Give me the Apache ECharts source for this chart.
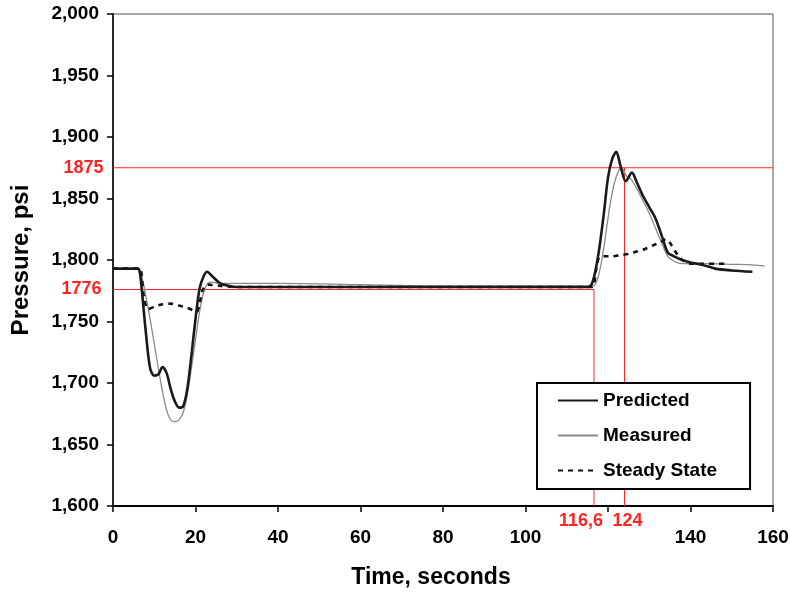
<!DOCTYPE html>
<html>
<head>
<meta charset="utf-8">
<script src="https://cdn.jsdelivr.net/npm/echarts@6/dist/echarts.min.js"></script>
<style>html,body{margin:0;padding:0;background:#fff}#c{width:790px;height:592px}</style>
</head>
<body>
<div id="c"></div>
<script>
// ---- data ----
const predT = [0, 6, 6.5, 7, 8, 9, 10, 11, 12, 13, 14, 15, 16, 17, 18, 19, 20, 21, 22, 22.8, 24, 26, 28, 30, 40, 60, 80, 100, 110, 115, 116, 117, 118, 119, 120, 121, 122, 123, 124.3, 125.8, 127, 128.5, 130, 131.5, 133, 134.5, 136, 138, 140, 143, 146, 150, 155];
const predP = [1793, 1793, 1790, 1775, 1740, 1712, 1706, 1707, 1713, 1708, 1695, 1685, 1680, 1681, 1695, 1722, 1752, 1777, 1787, 1790.5, 1787, 1781, 1779, 1778, 1778, 1778, 1778, 1778, 1778, 1778, 1780, 1792, 1812, 1838, 1867, 1882, 1888, 1877, 1864, 1871, 1863, 1852, 1843, 1834, 1820, 1806, 1803, 1800, 1798, 1796, 1793, 1791.5, 1790.5];

const measT = [0, 6, 7, 8, 9, 10, 11, 12, 13, 14, 15, 16, 17, 18, 19, 20, 21, 22, 23, 24, 26, 30, 40, 60, 80, 100, 110, 115, 116.5, 117.5, 118.5, 119.5, 120.5, 121.5, 122.5, 123.3, 124.5, 125.5, 127, 128.5, 130, 131.5, 133, 134.5, 136, 138, 140, 145, 150, 155, 158];
const measP = [1793, 1793, 1786, 1770, 1752, 1732, 1712, 1693, 1678, 1670, 1668.5, 1670, 1676, 1690, 1712, 1735, 1758, 1774, 1781, 1782, 1781, 1781, 1781, 1780, 1779, 1779, 1779, 1779, 1779, 1785, 1800, 1822, 1845, 1862, 1872, 1875, 1868, 1866, 1858, 1848, 1838, 1826, 1814, 1803, 1799, 1797, 1797, 1797, 1796.5, 1796, 1795];

const steadyT = [0, 6.5, 7, 7.5, 8.5, 10, 12, 14, 16, 18, 19.5, 20.3, 21, 21.8, 23, 26, 30, 60, 100, 116, 117, 117.8, 119, 121, 123, 125, 127, 129, 131, 133, 134, 135, 136.5, 138, 140, 143, 146, 149];
const steadyP = [1793, 1793, 1785, 1770, 1760, 1762, 1764, 1764.5, 1763, 1761, 1759, 1758, 1765, 1776, 1780, 1779, 1778, 1778, 1778, 1778, 1790, 1802, 1803, 1803, 1804, 1805, 1807, 1809, 1812, 1815, 1817, 1814, 1806, 1800, 1797, 1797, 1797, 1797];

const seriesNames = ['Predicted', 'Measured', 'Steady State'];
const refPressures = [1875, 1776];
const refTimes = [124, 116.6];
const xTicks = [0, 20, 40, 60, 80, 100, 120, 140, 160];
const hiddenXTick = 120;
const yTicks = [1600, 1650, 1700, 1750, 1800, 1850, 1900, 1950, 2000];

function zip(a, b) { return a.map((v, i) => [v, b[i]]); }

const RED = '#ff2424';
const FONT = '"Liberation Sans", Arial, sans-serif';
const redLabel = (txt, pos, extra) => Object.assign({
  show: true, position: pos, formatter: txt, color: RED,
  fontFamily: FONT, fontWeight: 'bold', fontSize: 18
}, extra || {});

const chart = echarts.init(document.getElementById('c'), null, { renderer: 'canvas' });

const refLineStyle = { color: RED, width: 1 };
const refCommon = {
  type: 'line', silent: true, symbol: 'circle', symbolSize: 1, showSymbol: true,
  itemStyle: { color: 'rgba(0,0,0,0)' }, lineStyle: refLineStyle, z: 1, animation: false
};

chart.setOption({
  animation: false,
  grid: {
    left: 113, right: 17, top: 14, bottom: 86, containLabel: false, outerBoundsMode: 'none',
    show: true, borderColor: '#555', borderWidth: 1
  },
  xAxis: {
    type: 'value', min: xTicks[0], max: xTicks[xTicks.length - 1], interval: 20,
    name: 'Time, seconds', nameLocation: 'middle', nameGap: 60,
    nameTextStyle: { fontFamily: FONT, fontWeight: 'bold', fontSize: 23, color: '#000', padding: [0, 24, 0, 0] },
    axisLine: { lineStyle: { color: '#000', width: 2 } },
    axisTick: { length: 6, lineStyle: { color: '#000', width: 1.5 } },
    splitLine: { show: false },
    axisLabel: {
      margin: 22, color: '#000', fontFamily: FONT, fontWeight: 'bold', fontSize: 19,
      formatter: v => (v === hiddenXTick ? '' : String(v))
    }
  },
  yAxis: {
    type: 'value', min: yTicks[0], max: yTicks[yTicks.length - 1], interval: 50,
    name: 'Pressure, psi', nameLocation: 'middle', nameGap: 80,
    nameTextStyle: { fontFamily: FONT, fontWeight: 'bold', fontSize: 24, color: '#000' },
    axisLine: { show: true, lineStyle: { color: '#000', width: 1.5 } },
    axisTick: { show: true, length: 6, lineStyle: { color: '#000', width: 1.5 } },
    splitLine: { show: false },
    axisLabel: {
      margin: 14, color: '#000', fontFamily: FONT, fontWeight: 'bold', fontSize: 19,
      formatter: v => v.toLocaleString('en-US')
    }
  },
  legend: {
    data: seriesNames, orient: 'vertical', left: 537, top: 383,
    padding: [8, 33, 9, 20], itemWidth: 40, itemHeight: 14, itemGap: 16,
    borderColor: '#000', borderWidth: 2, backgroundColor: '#fff',
    itemStyle: { opacity: 0 },
    textStyle: { fontFamily: FONT, fontWeight: 'bold', fontSize: 19, color: '#000' }
  },
  series: [
    Object.assign({}, refCommon, {
      name: 'ref1875',
      data: [
        { value: [0, refPressures[0]], label: redLabel(String(refPressures[0]), 'left', { distance: 9 }) },
        [xTicks[xTicks.length - 1], refPressures[0]]
      ]
    }),
    Object.assign({}, refCommon, {
      name: 'ref124',
      data: [
        [refTimes[0], refPressures[0]],
        { value: [refTimes[0], yTicks[0]], label: redLabel(String(refTimes[0]), 'bottom', { distance: 6, offset: [3, 0] }) }
      ]
    }),
    Object.assign({}, refCommon, {
      name: 'ref1776',
      data: [
        { value: [0, refPressures[1]], label: redLabel(String(refPressures[1]), 'left', { distance: 11 }) },
        [refTimes[1], refPressures[1]],
        { value: [refTimes[1], yTicks[0]], label: redLabel(String(refTimes[1]).replace('.', ','), 'bottom', { distance: 6, offset: [-13, 0] }) }
      ]
    }),
    {
      name: seriesNames[1], type: 'line', data: zip(measT, measP), symbol: 'none', smooth: 0.3,
      lineStyle: { color: '#8a8a8a', width: 1.3 }, itemStyle: { color: '#8a8a8a' }, z: 3
    },
    {
      name: seriesNames[2], type: 'line', data: zip(steadyT, steadyP), symbol: 'none', smooth: 0.3,
      lineStyle: { color: '#111', width: 2.6, type: [5, 5] }, itemStyle: { color: '#111' }, z: 4
    },
    {
      name: seriesNames[0], type: 'line', data: zip(predT, predP), symbol: 'none', smooth: 0.3,
      lineStyle: { color: '#1a1a1a', width: 2.6 }, itemStyle: { color: '#1a1a1a' }, z: 5
    }
  ]
});
</script>
</body>
</html>
